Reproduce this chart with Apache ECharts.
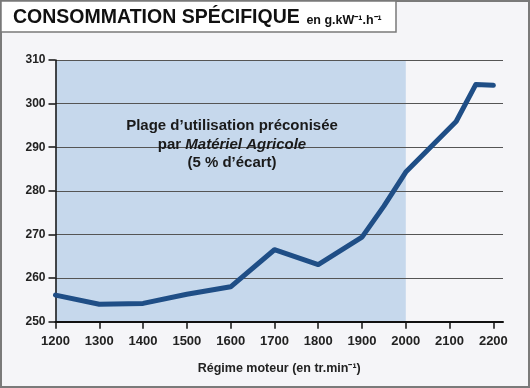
<!DOCTYPE html>
<html><head><meta charset="utf-8">
<script src="https://cdn.jsdelivr.net/npm/echarts@6/dist/echarts.min.js"></script>
<style>html,body{margin:0;padding:0;background:#f5f5f8;}#c{width:530px;height:388px;}</style>
</head><body><div id="c"></div>
<script>
const regimes = [1200, 1300, 1400, 1500, 1600, 1700, 1800, 1900, 1950, 2000, 2115, 2160, 2200];
const conso = [256.1, 254.0, 254.2, 256.3, 258.0, 266.5, 263.1, 269.4, 276.5, 284.3, 295.9, 304.4, 304.2];
const xTicks = [1200, 1300, 1400, 1500, 1600, 1700, 1800, 1900, 2000, 2100, 2200];
const yTicks = [250, 260, 270, 280, 290, 300, 310];
const plage = [1200, 2000];

const chart = echarts.init(document.getElementById('c'), null, {renderer: 'canvas'});
const font = '"Liberation Sans", Arial, sans-serif';
const narrow = '"Liberation Sans Narrow", "Arial Narrow", "Liberation Sans", sans-serif';
chart.setOption({
  backgroundColor: '#f5f5f8',
  animation: false,
  grid: {left: 55.5, right: 27, top: 60, bottom: 66.3},
  xAxis: {
    type: 'value', min: 1200, max: 2222, interval: 100, z: 2,
    axisLine: {lineStyle: {color: '#111', width: 2}},
    axisTick: {length: 7, lineStyle: {color: '#111', width: 1.5}, customValues: xTicks},
    axisLabel: {customValues: xTicks, formatter: v => String(v), color: '#222', fontFamily: narrow, fontWeight: 'bold', fontSize: 13, margin: 13},
    splitLine: {show: false},
    name: 'Régime moteur (en tr.min⁻¹)', nameLocation: 'middle', nameGap: 40,
    nameTextStyle: {color: '#222', fontFamily: font, fontWeight: 'bold', fontSize: 12.5}
  },
  yAxis: {
    type: 'value', min: 250, max: 310, interval: 10, z: 2,
    axisLine: {show: true, lineStyle: {color: '#111', width: 1.5}},
    axisTick: {show: true, length: 7, lineStyle: {color: '#111', width: 1.5}},
    axisLabel: {color: '#222', fontFamily: font, fontWeight: 'bold', fontSize: 12, margin: 10},
    splitLine: {show: true, lineStyle: {color: '#555', width: 1.2}}
  },
  series: [{
    type: 'line', z: 3,
    data: regimes.map((r, i) => [r, conso[i]]),
    showSymbol: false, symbol: 'none',
    lineStyle: {color: '#1f4e86', width: 5, cap: 'round', join: 'round'},
    markArea: {
      silent: true, z: 1,
      itemStyle: {color: '#c6d8ec', opacity: 1},
      data: [[{xAxis: plage[0], yAxis: yTicks[0]}, {xAxis: plage[1], yAxis: yTicks[yTicks.length - 1]}]]
    }
  }],
  graphic: [
    {type: 'rect', z: 0, shape: {x: 1, y: 1, width: 528, height: 386}, style: {fill: 'none', stroke: '#7a7a7a', lineWidth: 2}},
    {type: 'rect', z: 5, shape: {x: 1, y: 1, width: 395, height: 31}, style: {fill: '#ffffff', stroke: '#7a7a7a', lineWidth: 1.5}},
    {type: 'text', z: 6, left: 13, top: 8, style: {
      text: '{t|CONSOMMATION SPÉCIFIQUE}  {u|en g.kW⁻¹.h⁻¹}',
      rich: {
        t: {fontFamily: font, fontWeight: 'bold', fontSize: 19.5, fill: '#111'},
        u: {fontFamily: font, fontWeight: 'bold', fontSize: 12.5, fill: '#111', padding: [5, 0, 0, 0]}
      }
    }},
    {type: 'text', z: 6, x: 232, y: 117, style: {
      text: '{a|Plage d’utilisation préconisée}\n{a|par }{i|Matériel Agricole}\n{a|(5 % d’écart)}',
      align: 'center', verticalAlign: 'top',
      rich: {
        a: {fontFamily: font, fontWeight: 'bold', fontSize: 15, fill: '#1a1a1a', lineHeight: 18.5},
        i: {fontFamily: font, fontWeight: 'bold', fontSize: 15, fontStyle: 'italic', fill: '#1a1a1a', lineHeight: 18.5}
      }
    }}
  ]
});
</script></body></html>
